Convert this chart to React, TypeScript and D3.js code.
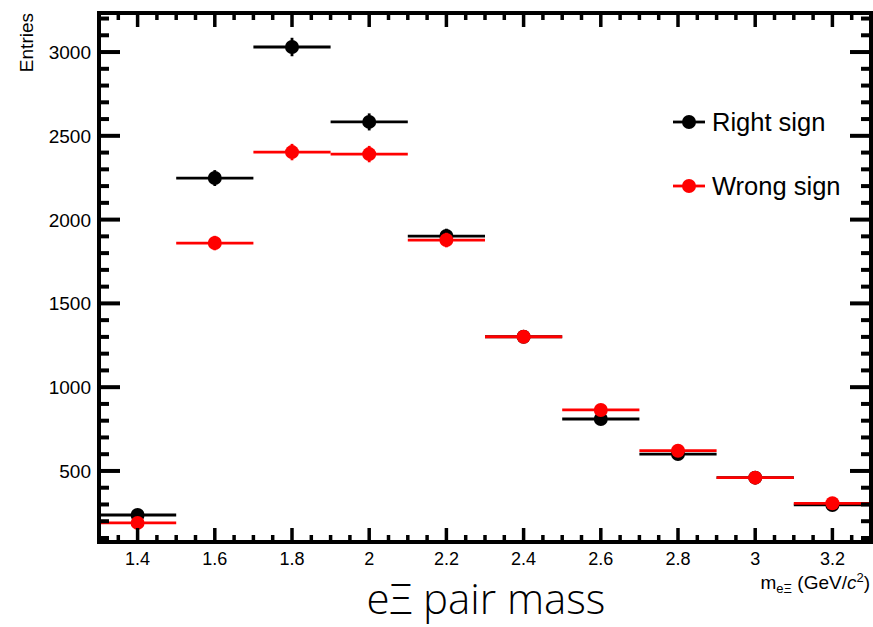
import React from "react";
import * as d3 from "d3";

const binCenters = [1.4, 1.6, 1.8, 2.0, 2.2, 2.4, 2.6, 2.8, 3.0, 3.2];
const binHalfWidth = 0.1;
const rightSign = [237, 2248, 3030, 2583, 1902, 1301, 810, 601, 460, 297];
const wrongSign = [190, 1860, 2403, 2391, 1878, 1301, 864, 621, 460, 307];
const seriesNames = ["Right sign", "Wrong sign"];
const xTickValues = [1.4, 1.6, 1.8, 2.0, 2.2, 2.4, 2.6, 2.8, 3.0, 3.2];
const yTickValues = [500, 1000, 1500, 2000, 2500, 3000];
const xDomain = [1.3, 3.3];
const yDomain = [76, 3233];

const W = 873;
const H = 627;
const L = 99;
const R = 871;
const T = 13;
const B = 542;

const axisFont = "'Liberation Sans', Arial, Helvetica, sans-serif";

export default function App() {
  const x = d3.scaleLinear().domain(xDomain).range([L, R]);
  const y = d3.scaleLinear().domain(yDomain).range([B, T]);

  const xMinor = d3.range(1.3, 3.3001, 0.05).filter(
    (v) => !xTickValues.some((t) => Math.abs(t - v) < 1e-6)
  );
  const yMinor = d3.range(100, 3201, 100).filter((v) => v % 500 !== 0);

  const series = [
    { name: seriesNames[0], values: rightSign, color: "#000000" },
    { name: seriesNames[1], values: wrongSign, color: "#ff0000" },
  ];

  const fmt = (v: number) => (Number.isInteger(v) ? String(v) : String(+v.toFixed(1)));

  return (
    <svg
      width={W}
      height={H}
      style={{ position: "absolute", left: 0, top: 0, background: "#fff" }}
    >
      <rect x={0} y={0} width={W} height={H} fill="#fff" />
      {/* data */}
      {series.map((s) => (
        <g key={s.name}>
          {s.values.map((v, i) => {
            const c = binCenters[i];
            const err = Math.sqrt(v);
            return (
              <g key={i}>
                <line
                  x1={x(c - binHalfWidth)}
                  x2={x(c + binHalfWidth)}
                  y1={y(v)}
                  y2={y(v)}
                  stroke={s.color}
                  strokeWidth={2.8}
                />
                <line
                  x1={x(c)}
                  x2={x(c)}
                  y1={y(v - err)}
                  y2={y(v + err)}
                  stroke={s.color}
                  strokeWidth={2.8}
                />
                <circle cx={x(c)} cy={y(v)} r={7} fill={s.color} />
              </g>
            );
          })}
        </g>
      ))}

      {/* frame */}
      <rect
        x={L}
        y={T}
        width={R - L}
        height={B - T}
        fill="none"
        stroke="#000"
        strokeWidth={4}
      />
      {/* x ticks */}
      {xTickValues.map((v) => (
        <g key={"xt" + v}>
          <line x1={x(v)} x2={x(v)} y1={B} y2={B - 14} stroke="#000" strokeWidth={3.5} />
          <line x1={x(v)} x2={x(v)} y1={T} y2={T + 14} stroke="#000" strokeWidth={3.5} />
          <text
            x={x(v)}
            y={565}
            textAnchor="middle"
            fontFamily={axisFont}
            fontSize={18}
            fill="#000"
          >
            {fmt(v)}
          </text>
        </g>
      ))}
      {xMinor.map((v, i) => (
        <g key={"xm" + i}>
          <line x1={x(v)} x2={x(v)} y1={B} y2={B - 7} stroke="#000" strokeWidth={3.5} />
          <line x1={x(v)} x2={x(v)} y1={T} y2={T + 7} stroke="#000" strokeWidth={3.5} />
        </g>
      ))}
      {/* y ticks */}
      {yTickValues.map((v) => (
        <g key={"yt" + v}>
          <line x1={L} x2={L + 21} y1={y(v)} y2={y(v)} stroke="#000" strokeWidth={4} />
          <line x1={R} x2={R - 21} y1={y(v)} y2={y(v)} stroke="#000" strokeWidth={4} />
          <text
            x={91}
            y={y(v) + 7}
            textAnchor="end"
            fontFamily={axisFont}
            fontSize={19}
            fill="#000"
          >
            {v}
          </text>
        </g>
      ))}
      {yMinor.map((v) => (
        <g key={"ym" + v}>
          <line x1={L} x2={L + 10} y1={y(v)} y2={y(v)} stroke="#000" strokeWidth={4} />
          <line x1={R} x2={R - 10} y1={y(v)} y2={y(v)} stroke="#000" strokeWidth={4} />
        </g>
      ))}

      {/* y title */}
      <text
        transform="translate(33,13) rotate(-90)"
        textAnchor="end"
        fontFamily={axisFont}
        fontSize={19}
        fill="#000"
      >
        Entries
      </text>

      {/* x title */}
      <text
        x={870}
        y={589}
        textAnchor="end"
        fontFamily={axisFont}
        fontSize={19}
        fill="#000"
      >
        <tspan>m</tspan>
        <tspan fontSize={13} dy={4}>eΞ</tspan>
        <tspan dy={-4}>  (GeV/</tspan>
        <tspan fontStyle="italic">c</tspan>
        <tspan fontSize={13} dy={-7}>2</tspan>
        <tspan dy={7}>)</tspan>
      </text>

      {/* legend */}
      {series.map((s, i) => {
        const ly = 122 + i * 64;
        return (
          <g key={"lg" + i}>
            <line x1={673} x2={705} y1={ly} y2={ly} stroke={s.color} strokeWidth={2.8} />
            <circle cx={689} cy={ly} r={7} fill={s.color} />
            <text
              x={712}
              y={ly + 9}
              fontFamily={axisFont}
              fontSize={25.5}
              fill="#000"
            >
              {s.name}
            </text>
          </g>
        );
      })}

      {/* bottom caption */}
      <text
        x={486}
        y={614}
        textAnchor="middle"
        fontFamily="'Open Sans', 'Noto Sans', sans-serif"
        fontWeight={300}
        fontSize={42}
        fill="#000"
      >
        eΞ pair mass
      </text>
    </svg>
  );
}
